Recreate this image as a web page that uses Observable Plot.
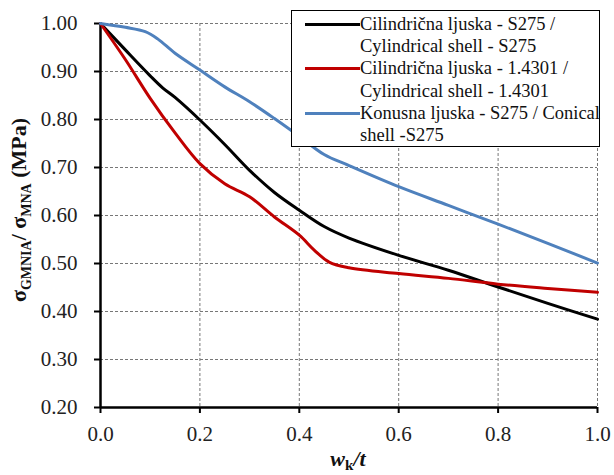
<!DOCTYPE html>
<html>
<head>
<meta charset="utf-8">
<script src="https://cdn.jsdelivr.net/npm/d3@7"></script>
<script src="https://cdn.jsdelivr.net/npm/@observablehq/plot@0.6"></script>
<style>
  html, body { margin: 0; padding: 0; background: #fff; }
  #wrap { position: relative; width: 614px; height: 475px; }
  #wrap, #wrap * { font-family: "Liberation Serif", "Times New Roman", serif !important; }
  #legend { position: absolute; left: 291px; top: 10px; width: 309px; height: 137px; border: 1px solid #000; background: #fff; font-size: 18.5px; line-height: 22.2px; color: #111; padding-top: 2px; box-sizing: border-box; }
  .entry { position: relative; padding-left: 68px; white-space: nowrap; }
  .entry .swatch { position: absolute; left: 13px; top: 10px; width: 55px; height: 3px; }
</style>
</head>
<body>
<div id="wrap"></div>
<script>
// ---- data ----
const seriesNames = [
  "Cilindrična ljuska - S275 / Cylindrical shell - S275",
  "Cilindrična ljuska - 1.4301 / Cylindrical shell - 1.4301",
  "Konusna ljuska - S275 / Conical shell -S275"
];
const legendLines = [
  ["Cilindrična ljuska - S275 /", "Cylindrical shell - S275"],
  ["Cilindrična ljuska - 1.4301 /", "Cylindrical shell - 1.4301"],
  ["Konusna ljuska - S275 / Conical", "shell -S275"]
];
const seriesColors = ["#000000", "#C00000", "#4F81BD"];

const blackX = [0, 0.05, 0.1, 0.125, 0.15, 0.2, 0.25, 0.3, 0.35, 0.4, 0.45, 0.5, 0.6, 0.7, 0.8, 0.9, 1.0];
const blackY = [1.00, 0.945, 0.891, 0.866, 0.846, 0.799, 0.748, 0.694, 0.648, 0.611, 0.577, 0.553, 0.517, 0.486, 0.451, 0.417, 0.384];

const redX = [0, 0.05, 0.1, 0.15, 0.2, 0.25, 0.3, 0.35, 0.4, 0.43, 0.46, 0.5, 0.6, 0.7, 0.8, 0.9, 1.0];
const redY = [1.00, 0.925, 0.844, 0.772, 0.708, 0.666, 0.639, 0.597, 0.559, 0.528, 0.503, 0.491, 0.479, 0.469, 0.457, 0.448, 0.440];

const blueX = [0, 0.05, 0.09, 0.115, 0.15, 0.2, 0.25, 0.3, 0.35, 0.4, 0.45, 0.5, 0.6, 0.7, 0.8, 0.9, 1.0];
const blueY = [1.00, 0.992, 0.983, 0.968, 0.938, 0.903, 0.868, 0.837, 0.802, 0.765, 0.727, 0.704, 0.660, 0.621, 0.582, 0.542, 0.501];

const xTicks = [0, 0.2, 0.4, 0.6, 0.8, 1.0];
const yTicks = [0.2, 0.3, 0.4, 0.5, 0.6, 0.7, 0.8, 0.9, 1.0];

// ---- build table ----
const rows = [];
[[blackX, blackY], [redX, redY], [blueX, blueY]].forEach(([xs, ys], i) => {
  xs.forEach((x, j) => rows.push({x, y: ys[j], s: seriesNames[i]}));
});

const serif = "Liberation Serif, Times New Roman, serif";

const chart = Plot.plot({
  width: 614,
  height: 475,
  marginLeft: 100,
  marginRight: 17,
  marginTop: 23,
  marginBottom: 68,
  style: {fontFamily: serif, fontSize: "21px", color: "#222", background: "#fff"},
  x: {domain: [0, 1]},
  y: {domain: [0.2, 1.0]},
  color: {domain: seriesNames, range: seriesColors},
  marks: [
    Plot.gridX(xTicks, {stroke: "#777", strokeOpacity: 1, strokeWidth: 1, strokeDasharray: "3,2"}),
    Plot.gridY(yTicks, {stroke: "#777", strokeOpacity: 1, strokeWidth: 1, strokeDasharray: "3,2"}),
    Plot.axisX(xTicks, {tickSize: 6, tickPadding: 13, strokeWidth: 2, stroke: "#000", label: null, fontSize: 21, fontFamily: serif, tickFormat: d3.format(".1f")}),
    Plot.axisY(yTicks, {tickSize: 6, tickPadding: 17, strokeWidth: 2, stroke: "#000", label: null, fontSize: 21, fontFamily: serif, tickFormat: d3.format(".2f")}),
    Plot.ruleX([0], {stroke: "#000", strokeWidth: 2.5}),
    Plot.ruleY([0.2], {stroke: "#000", strokeWidth: 2.5}),
    Plot.line(rows, {x: "x", y: "y", z: "s", stroke: "s", strokeWidth: 3, curve: "catmull-rom"})
  ]
});

const wrap = document.getElementById("wrap");
wrap.appendChild(chart);

// axis titles with sub-scripts
const svg = d3.select(chart);
const yt = svg.append("text")
  .attr("transform", "translate(26,210) rotate(-90)")
  .attr("text-anchor", "middle")
  .attr("font-family", serif)
  .attr("font-weight", "bold")
  .attr("font-size", 22)
  .attr("fill", "#111");
yt.append("tspan").text("σ");
yt.append("tspan").attr("font-size", 14).attr("dy", 5).text("GMNIA");
yt.append("tspan").attr("dy", -5).text("/ σ");
yt.append("tspan").attr("font-size", 14).attr("dy", 5).text("MNA");
yt.append("tspan").attr("dy", -5).text(" (MPa)");

const xt = svg.append("text")
  .attr("x", 348).attr("y", 466)
  .attr("text-anchor", "middle")
  .attr("font-family", serif)
  .attr("font-weight", "bold")
  .attr("font-size", 22)
  .attr("fill", "#111");
xt.append("tspan").attr("font-style", "italic").text("w");
xt.append("tspan").attr("font-size", 15).attr("dy", 4).text("k");
xt.append("tspan").attr("dy", -4).attr("font-style", "italic").text("/t");

// legend
const legend = document.createElement("div");
legend.id = "legend";
legendLines.forEach((lines, i) => {
  const e = document.createElement("div");
  e.className = "entry";
  const sw = document.createElement("div");
  sw.className = "swatch";
  sw.style.background = seriesColors[i];
  e.appendChild(sw);
  e.insertAdjacentHTML("beforeend", lines.join("<br>"));
  legend.appendChild(e);
});
wrap.appendChild(legend);
</script>
</body>
</html>
